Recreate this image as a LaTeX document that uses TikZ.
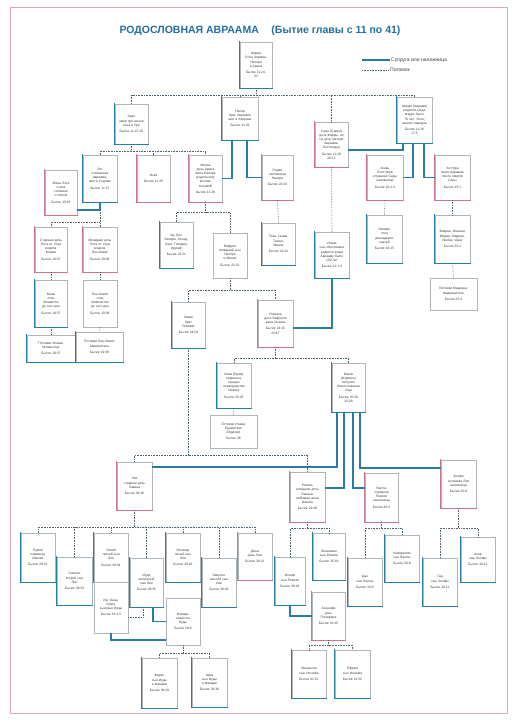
\documentclass[tikz,border=0pt]{standalone}
\usepackage{fontspec}
\setmainfont{Liberation Sans}
\usetikzlibrary{calc}
\definecolor{mblue}{RGB}{40,125,165}
\definecolor{mpink}{RGB}{205,115,140}
\definecolor{mgray}{RGB}{175,182,188}
\definecolor{mdot}{RGB}{80,100,112}
\definecolor{mtitle}{RGB}{35,110,160}
\definecolor{mframe}{RGB}{225,165,180}
\definecolor{mtext}{RGB}{60,60,60}
\tikzset{
  gbox/.style={draw=mgray, line width=0.4pt, fill=white, inner sep=0pt, align=center,
    text=mtext, font=\fontsize{3.3}{4.2}\selectfont},
  sideline/.style={line width=1.1pt, line cap=rect},
  desc/.style={densely dotted, line width=0.6pt, draw=mdot},
  spouse/.style={line width=1.8pt, draw=mblue},
  titlestyle/.style={font=\fontsize{10.5}{12}\bfseries\selectfont, text=mtitle, inner sep=0pt},
  legendtext/.style={font=\fontsize{5}{6}\selectfont, text=mtext, anchor=west, inner sep=0pt}
}
% gray box: name, x1, y1, x2, y2, text
\newcommand\gbx[6]{%
  \pgfmathsetmacro\bw{#4-#2}\pgfmathsetmacro\bh{#5-#3}\pgfmathsetmacro\tw{#4-#2-3}%
  \node[gbox, minimum width=\bw pt, minimum height=\bh pt, text width=\tw pt] (#1) at ({(#2+#4)/2},{(#3+#5)/2}) {#6};
}
% coloured box: name, x1, y1, x2, y2, colour, text
\newcommand\cbx[7]{%
  \gbx{#1}{#2}{#3}{#4}{#5}{#7}
  \draw[sideline, draw=#6] (#1.north west) -- (#1.south west) -- (#1.south east);
}
\begin{document}
\begin{tikzpicture}[x=1pt, y=-1pt]
\useasboundingbox (0,0) rectangle (518,724);
\fill[white] (0,0) rectangle (518,724);
\draw[mframe, line width=0.8pt] (10,7) rectangle (507,713);

\node[titlestyle] (title) at (260,31) {РОДОСЛОВНАЯ АВРААМА\hspace{1.2em}(Бытие главы с 11 по 41)};

% legend
\coordinate (lg1a) at (362,60); \coordinate (lg1b) at (390,60);
\coordinate (lg2a) at (362,70); \coordinate (lg2b) at (389,70);
\draw[spouse] (lg1a) -- (lg1b);
\draw[desc] (lg2a) -- (lg2b);
\node[legendtext] (lgt1) at (391,60) {Супруга или наложница};
\node[legendtext] (lgt2) at (390,70) {Потомок};

% ---------------- boxes ----------------
\cbx{terah}{240}{42}{272}{88}{mblue}{Фарра\\Отец Аврама,\\Нахора\\и Арана\\[2pt]Бытие 11:24-\\32}
\cbx{aran}{115}{104}{148}{144}{mblue}{Аран\\умер при жизни\\отца в Уре\\[2pt]Бытие 11:27-28}
\cbx{nahor}{222}{97}{258}{140}{mblue}{Нахор\\брат Авраама\\жил в Харране\\[2pt]Бытие 11:29}
\cbx{sarah}{315}{122}{348}{167}{mpink}{Сара (Сарра)\\дочь Фарры, но\\не дочь матери\\Авраама.\\Бесплодна\\[2pt]Бытие 11:29\\20:12}
\cbx{abraham}{397}{97}{432}{143}{mblue}{Аврам (Авраам)\\родился когда\\Фарре было\\70 лет. Отец\\многих народов\\[2pt]Бытие 11:26\\17:5}

\cbx{lotwife}{45}{170}{77}{215}{mpink}{Жена Лота\\стала\\соляным\\столпом\\[2pt]Бытие 19:26}
\cbx{lot}{83}{155}{117}{202}{mblue}{Лот\\племянник\\Авраама,\\жил в Содоме\\[2pt]Бытие 11:27}
\cbx{iscah}{137}{155}{170}{202}{mpink}{Иска\\[2pt]Бытие 11:29}
\cbx{milcah}{189}{155}{222}{202}{mpink}{Милка\\дочь Арана\\жена Нахора\\родила ему\\восемь\\сыновей\\[2pt]Бытие 11:29}
\cbx{reumah}{262}{155}{293}{200}{mpink}{Реума\\наложница\\Нахора\\[2pt]Бытие 22:24}
\cbx{hagar}{367}{155}{403}{200}{mpink}{Агарь\\Египтянка\\служанка Сары\\наложница\\[2pt]Бытие 16:1-3}
\cbx{keturah}{435}{155}{470}{200}{mpink}{Хеттура\\жена Авраама\\после смерти\\Сары\\[2pt]Бытие 25:1}

\cbx{moab}{35}{227}{67}{272}{mpink}{Старшая дочь\\Лота от отца\\родила\\Моава\\[2pt]Бытие 19:37}
\cbx{ammon}{83}{227}{117}{272}{mpink}{Младшая дочь\\Лота от отца\\родила\\Бен-Амми\\[2pt]Бытие 19:38}
\cbx{moabb}{35}{280}{67}{327}{mblue}{Моав\\отец\\Моавитян\\до сего дня\\[2pt]Бытие 19:37}
\gbx{ammonb}{83}{280}{117}{327}{Бен-Амми\\отец\\Аммонитян\\до сего дня\\[2pt]Бытие 19:38}
\cbx{moabc}{27}{335}{75}{362}{mblue}{Потомки Моава:\\Моавитяне\\[2pt]Бытие 19:37}
\cbx{ammonc}{76}{332}{123}{362}{mblue}{Потомки Бен-Амми:\\Аммонитяне\\[2pt]Бытие 19:38}

\cbx{uz}{160}{222}{193}{268}{mblue}{Уц, Буз,\\Кемуил, Кесед,\\Хазо, Пилдаш,\\Идлаф\\[2pt]Бытие 22:21}
\gbx{bethuel}{213}{233}{247}{278}{Вафуил\\младший сын\\Нахора\\и Милки\\[2pt]Бытие 22:22}
\cbx{reumahkids}{262}{223}{295}{265}{mblue}{Тева, Гахам,\\Тахаш,\\Мааха\\[2pt]Бытие 22:24}
\cbx{isaac}{315}{232}{349}{278}{mblue}{Исаак\\сын обетования\\родился когда\\Аврааму было\\100 лет\\[2pt]Бытие 21:1-5}
\cbx{ishmael}{367}{215}{402}{263}{mblue}{Измаил\\отец\\двенадцати\\князей\\[2pt]Бытие 16:15}
\cbx{keturahkids}{435}{215}{470}{263}{mblue}{Зимран, Иокшан,\\Медан, Мадиан,\\Ишбак, Шуах\\[2pt]Бытие 25:2}
\gbx{midian}{430}{278}{477}{310}{Потомки Мадиана:\\Мадианитяне\\[2pt]Бытие 25:4}

\cbx{laban}{172}{302}{205}{348}{mblue}{Лаван\\брат\\Ревекки\\[2pt]Бытие 24:29}
\cbx{rebekah}{258}{300}{293}{347}{mpink}{Ревекка\\дочь Вафуила\\жена Исаака\\[2pt]Бытие 24:15\\24:67}
\cbx{esau}{217}{363}{251}{408}{mblue}{Исав (Едом)\\первенец,\\продал\\первородство\\Иакову\\[2pt]Бытие 25:25}
\cbx{jacob}{332}{363}{365}{412}{mblue}{Иаков\\(Израиль)\\получил\\благословение\\отца\\[2pt]Бытие 25:26\\32:28}
\gbx{edom}{210}{415}{257}{448}{Потомки Исава:\\Едомитяне\\(Идумеи)\\[2pt]Бытие 36}

\cbx{leah}{117}{462}{152}{510}{mpink}{Лия\\старшая дочь\\Лавана\\[2pt]Бытие 29:16}
\cbx{rachel}{290}{472}{325}{522}{mpink}{Рахиль\\младшая дочь\\Лавана,\\любимая жена\\Иакова\\[2pt]Бытие 29:28}
\cbx{bilhah}{365}{473}{398}{522}{mpink}{Валла\\служанка\\Рахили\\наложница\\[2pt]Бытие 30:3}
\cbx{zilpah}{441}{460}{476}{508}{mpink}{Зелфа\\служанка Лии\\наложница\\[2pt]Бытие 30:9}

\cbx{reuben}{21}{533}{55}{582}{mblue}{Рувим\\первенец\\Иакова\\[2pt]Бытие 29:32}
\cbx{simeon}{57}{557}{92}{605}{mblue}{Симеон\\второй сын\\Лии\\[2pt]Бытие 29:33}
\cbx{levi}{94}{533}{128}{582}{mblue}{Левий\\третий сын\\Лии\\[2pt]Бытие 29:34}
\cbx{judah}{130}{558}{163}{607}{mblue}{Иуда\\четвёртый\\сын Лии\\[2pt]Бытие 29:35}
\cbx{issachar}{166}{533}{200}{582}{mblue}{Иссахар\\пятый сын\\Лии\\[2pt]Бытие 30:18}
\cbx{zebulun}{202}{558}{236}{607}{mblue}{Завулон\\шестой сын\\Лии\\[2pt]Бытие 30:20}
\cbx{dinah}{238}{533}{272}{580}{mpink}{Дина\\дочь Лии\\[2pt]Бытие 30:21}
\gbx{er}{94}{582}{128}{633}{Ир, Онан,\\Шела\\сыновья Иуды\\[2pt]Бытие 38:3-5}
\gbx{tamar}{166}{598}{200}{645}{Фамарь\\невестка\\Иуды\\[2pt]Бытие 38:6}
\cbx{perez}{142}{658}{177}{708}{mblue}{Фарес\\сын Иуды\\и Фамари\\[2pt]Бытие 38:29}
\cbx{zerah}{192}{658}{227}{707}{mblue}{Зара\\сын Иуды\\и Фамари\\[2pt]Бытие 38:30}

\cbx{joseph}{275}{557}{305}{605}{mblue}{Иосиф\\сын Рахили\\[2pt]Бытие 30:24}
\cbx{benjamin}{313}{533}{345}{580}{mblue}{Вениамин\\сын Рахили\\[2pt]Бытие 35:18}
\cbx{asenath}{312}{592}{345}{640}{mpink}{Асенефа\\дочь\\Потифера\\[2pt]Бытие 41:45}
\cbx{manasseh}{292}{650}{326}{698}{mblue}{Манассия\\сын Иосифа\\[2pt]Бытие 41:51}
\cbx{ephraim}{335}{650}{370}{698}{mblue}{Ефрем\\сын Иосифа\\[2pt]Бытие 41:52}
\cbx{dan}{348}{558}{382}{606}{mblue}{Дан\\сын Валлы\\[2pt]Бытие 30:6}
\cbx{naphtali}{385}{535}{419}{582}{mblue}{Неффалим\\сын Валлы\\[2pt]Бытие 30:8}
\cbx{gad}{423}{558}{457}{606}{mblue}{Гад\\сын Зелфы\\[2pt]Бытие 30:11}
\cbx{asher}{461}{537}{495}{582}{mblue}{Асир\\сын Зелфы\\[2pt]Бытие 30:13}

% ---------------- descendants (dotted) ----------------
\foreach \t in {aran,nahor,sarah,abraham} \draw[desc] (terah.south) -- ++(0,7) -| (\t.north);
\foreach \t in {lot,iscah,milcah} \draw[desc] (aran.south) -- ++(0,7) -| (\t.north);
\foreach \t in {moab,ammon} \draw[desc] (lot.south) -- ++(0,20) -| (\t.north);
\draw[desc] (moab.south) -- (moabb.north);
\draw[desc] (ammon.south) -- (ammonb.north);
\draw[desc] (moabb.south) -- (moabc.north);
\draw[desc] (ammonb.south) -- (ammonc.north);
\foreach \t in {uz,bethuel} \draw[desc] (milcah.south) -- ++(0,10) -| (\t.north);
\draw[desc] (reumah.south) -- (reumahkids.north);
\draw[desc] (sarah.south) -- (isaac.north);
\draw[desc] (hagar.south) -- (ishmael.north);
\draw[desc] (keturah.south) -- (keturahkids.north);
\draw[desc] (keturahkids.south) -- (midian.north);
\foreach \t in {laban,rebekah} \draw[desc] (bethuel.south) -- ++(0,12) -| (\t.north);
\foreach \t in {esau,jacob} \draw[desc] (rebekah.south) -- ++(0,11) -| (\t.north);
\draw[desc] (esau.south) -- (edom.north);
\foreach \t in {leah,rachel} \draw[desc] (laban.south) -- ++(0,107) -| (\t.north);
\foreach \t in {reuben,simeon,levi,judah,issachar,zebulun,dinah} \draw[desc] (leah.south) -- ++(0,17) -| (\t.north);
\draw[desc] ([xshift=-3.5pt]judah.south) |- ([yshift=-9.5pt]er.east);
\foreach \t in {perez,zerah} \draw[desc] (tamar.south) -- ++(0,8) -| (\t.north);
\foreach \t in {joseph,benjamin} \draw[desc] (rachel.south) -- ++(0,6) -| (\t.north);
\foreach \t in {manasseh,ephraim} \draw[desc] (asenath.south) -- ++(0,5) -| (\t.north);
\foreach \t in {dan,naphtali} \draw[desc] (bilhah.south) -- ++(0,6) -| (\t.north);
\foreach \t in {gad,asher} \draw[desc] (zilpah.south) -- ++(0,20) -| (\t.north);

% ---------------- spouses (thick) ----------------
\draw[spouse] (lot.south) |- ([yshift=5pt]lotwife.south east);
\draw[spouse] ([xshift=-8pt]nahor.south) |- (milcah.east);
\draw[spouse] ([xshift=7pt]nahor.south) |- (reumah.west);
\draw[spouse] ([xshift=-11.5pt]abraham.south) |- ([yshift=-5.5pt]sarah.east);
\draw[spouse] ([xshift=-1.5pt]abraham.south) |- (hagar.east);
\draw[spouse] ([xshift=9.5pt]abraham.south) |- (keturah.west);
\draw[spouse] (isaac.south) |- ([yshift=-4.5pt]rebekah.east);
\draw[spouse] ([xshift=-11.5pt]jacob.south) |- ([yshift=19pt]leah.east);
\draw[spouse] ([xshift=-4.5pt]jacob.south) |- ([yshift=9pt]rachel.east);
\draw[spouse] ([xshift=4.5pt]jacob.south) |- ([yshift=9.5pt]bilhah.west);
\draw[spouse] ([xshift=11.5pt]jacob.south) |- ([yshift=16pt]zilpah.west);
\draw[spouse] ([xshift=6.5pt]judah.south) |- (tamar.west);
\draw[spouse] (er.south) |- ([yshift=5pt]tamar.south west);
\draw[spouse] (joseph.south) |- (asenath.west);
\end{tikzpicture}
\end{document}
